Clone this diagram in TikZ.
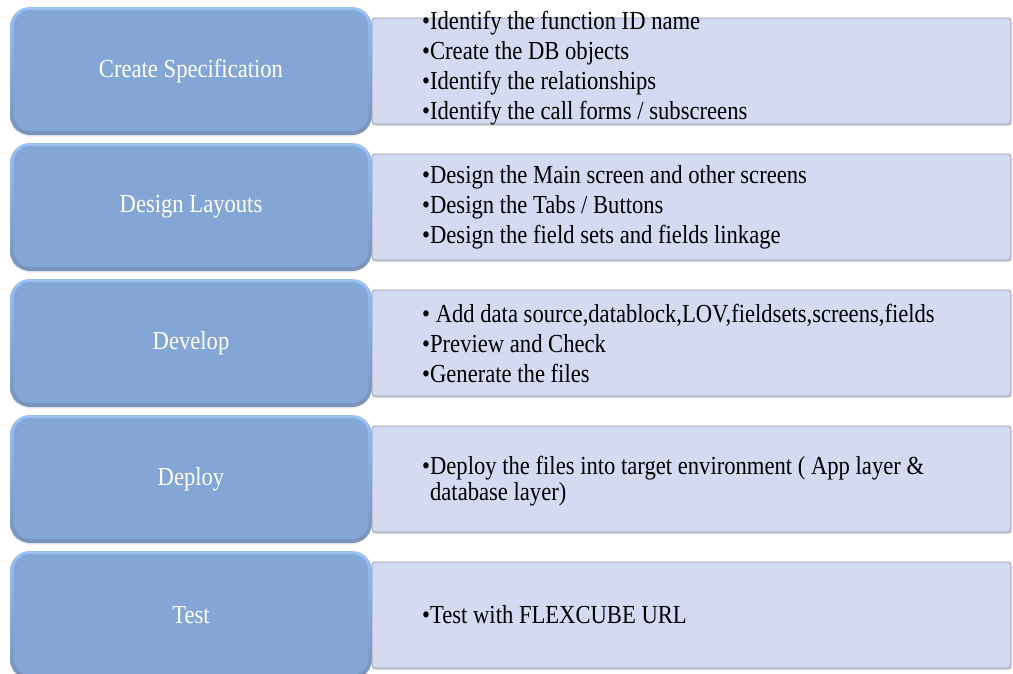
\documentclass[tikz,border=0pt]{standalone}
\usepackage{fontspec}
\setmainfont{Liberation Serif}[FakeStretch=0.87]
\usetikzlibrary{positioning,shadows}

\definecolor{stageblue}{RGB}{132,166,214}
\definecolor{stagehi}{RGB}{152,194,246}
\definecolor{stagelo}{RGB}{120,146,186}
\definecolor{notefill}{RGB}{212,218,241}
\definecolor{noteedge}{RGB}{150,155,172}

\tikzset{
  stage/.style={rectangle, rounded corners=20pt, minimum width=362pt,
    minimum height=128pt, inner sep=0pt, outer sep=0pt,
    top color=stagehi, bottom color=stagelo, text=white,
    font=\fontsize{26}{30}\selectfont,
    drop shadow={opacity=0.12, shadow xshift=0pt, shadow yshift=-1.5pt},
    path picture={\fill[stageblue, rounded corners=16pt]
      ([shift={(4pt,-3pt)}]path picture bounding box.north west) rectangle
      ([shift={(-4pt,4pt)}]path picture bounding box.south east);}},
  notebox/.style={rectangle, rounded corners=3pt, minimum width=639pt,
    minimum height=106pt, inner sep=0pt, outer sep=0pt, fill=notefill,
    draw=noteedge, line width=0.8pt,
    drop shadow={opacity=0.35, shadow xshift=0.5pt, shadow yshift=-2pt}},
  notetext/.style={inner sep=0pt, align=left, font=\fontsize{26}{30}\selectfont},
}

\begin{document}
\begin{tikzpicture}[x=1pt, y=-1pt]
    \useasboundingbox (0,0) rectangle (1013,673);
    \clip (0,0) rectangle (1013,673);

    % blue stages, one under the other
    \node [stage] (spec) at (191,71) {Create Specification};
    \node [stage, below=8pt of spec] (layout) {Design Layouts};
    \node [stage, below=8pt of layout] (develop) {Develop};
    \node [stage, below=8pt of develop] (deploy) {Deploy};
    \node [stage, below=8pt of deploy] (test) {Test};

    % note boxes beside them
    \node [notebox, right=0pt of spec] (specnote) {};
    \node [notebox, right=0pt of layout] (layoutnote) {};
    \node [notebox, right=0pt of develop] (developnote) {};
    \node [notebox, right=0pt of deploy] (deploynote) {};
    \node [notebox, right=0pt of test] (testnote) {};

    % bullet texts
    \node [notetext, right=50pt of specnote.west, yshift=3pt] (spectext)
        {•Identify the function ID name\\•Create the DB objects\\•Identify the relationships\\•Identify the call forms / subscreens};
    \node [notetext, right=50pt of layoutnote.west] (layouttext)
        {•Design the Main screen and other screens\\•Design the Tabs / Buttons\\•Design the field sets and fields linkage};
    \node [notetext, right=50pt of developnote.west] (developtext)
        {• Add data source,datablock,LOV,fieldsets,screens,fields\\•Preview and Check\\•Generate the files};
    \node [notetext, font=\fontsize{26}{26}\selectfont, right=50pt of deploynote.west, yshift=-2pt] (deploytext)
        {•Deploy the files into target environment ( App layer \&\\\phantom{•}database layer)};
    \node [notetext, right=50pt of testnote.west] (testtext) {•Test with FLEXCUBE URL};
\end{tikzpicture}
\end{document}
